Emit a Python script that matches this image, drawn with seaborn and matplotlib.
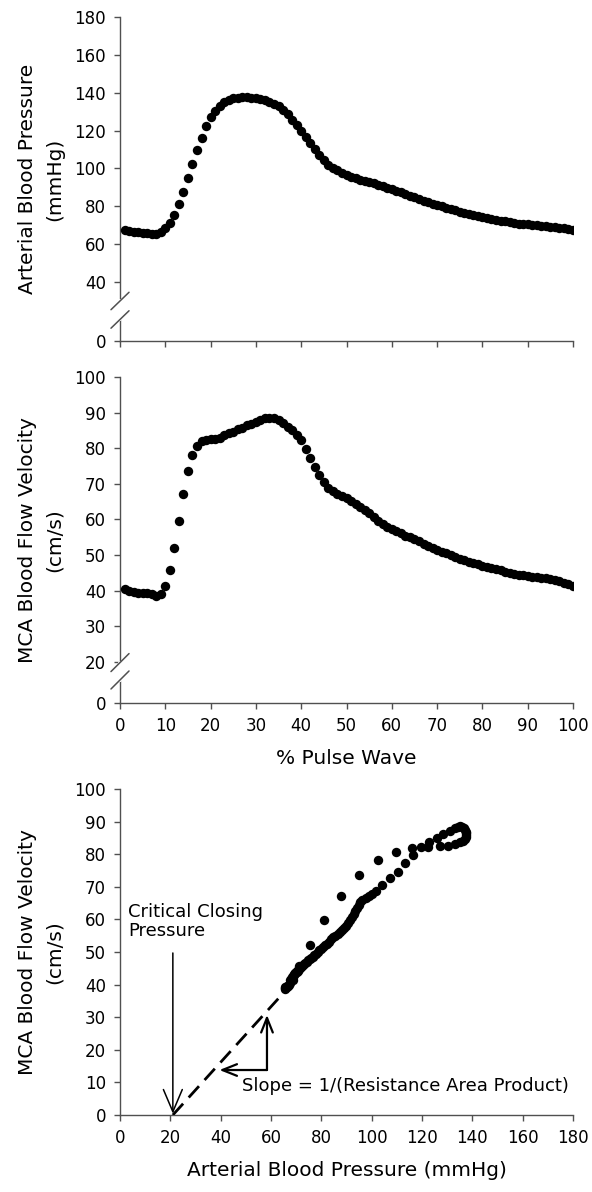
import numpy as np
import matplotlib
matplotlib.use("Agg")
import matplotlib.pyplot as plt
import seaborn as sns

# Ensemble-averaged cardiac cycle, sampled at each 1 % of the pulse wave
pulse_pct = list(range(1, 101))

abp_mmhg = [
    67.4, 67.0, 66.6, 66.3, 66.0, 65.7, 65.5, 65.6, 66.5, 68.6,
    71.2, 75.3, 81.0, 87.7, 94.9, 102.5, 109.5, 116.2, 122.3, 127.0,
    130.5, 133.0, 135.0, 136.3, 137.0, 137.4, 137.6, 137.6, 137.4, 137.1,
    136.6, 136.0, 135.2, 134.2, 133.0, 131.0, 128.5, 125.8, 122.8, 119.7,
    116.5, 113.3, 110.3, 107.2, 104.2, 101.8, 100.3, 99.0, 97.6, 96.3,
    95.5, 94.8, 94.1, 93.5, 92.8, 92.1, 91.3, 90.5, 89.7, 88.9,
    88.1, 87.3, 86.5, 85.6, 84.7, 83.8, 82.9, 82.1, 81.3, 80.6,
    79.9, 79.2, 78.6, 77.9, 77.2, 76.5, 75.9, 75.3, 74.7, 74.2,
    73.7, 73.2, 72.7, 72.3, 72.0, 71.6, 71.2, 70.9, 70.6, 70.4,
    70.2, 69.9, 69.7, 69.5, 69.2, 69.0, 68.7, 68.4, 68.1, 67.7,
]

mca_cms = [
    40.5, 39.9, 39.6, 39.5, 39.4, 39.3, 39.0, 38.6, 39.2, 41.4,
    45.7, 52.0, 59.7, 67.2, 73.7, 78.1, 80.7, 81.9, 82.3, 82.5,
    82.6, 83.0, 83.6, 84.2, 84.7, 85.3, 85.8, 86.4, 86.9, 87.4,
    87.9, 88.4, 88.6, 88.4, 88.0, 87.2, 86.1, 85.0, 83.8, 82.2,
    79.9, 77.3, 74.6, 72.6, 70.4, 68.8, 67.9, 67.2, 66.6, 66.0,
    65.2, 64.4, 63.6, 62.7, 61.7, 60.7, 59.7, 58.8, 57.9, 57.3,
    56.7, 56.1, 55.5, 55.0, 54.5, 53.9, 53.2, 52.6, 52.0, 51.5,
    51.0, 50.5, 50.0, 49.5, 49.0, 48.6, 48.2, 47.8, 47.4, 47.0,
    46.7, 46.4, 46.0, 45.7, 45.4, 45.1, 44.8, 44.5, 44.3, 44.1,
    43.9, 43.8, 43.7, 43.6, 43.4, 43.0, 42.6, 42.2, 41.8, 41.4,
]

# Extrapolated pressure-velocity relationship
critical_closing_pressure = 21.0
slope = 0.852
fit_abp = [critical_closing_pressure, 65.0]

abp_ticks = [0, 40, 60, 80, 100, 120, 140, 160, 180]
mca_ticks_wave = [0, 20, 30, 40, 50, 60, 70, 80, 90, 100]
pct_ticks = list(range(0, 101, 10))
mca_ticks = list(range(0, 101, 10))
abp_ticks_x = list(range(0, 181, 20))

sns.set_theme(style="ticks")
plt.rcParams["font.family"] = ["DejaVu Sans"]
plt.rcParams["text.color"] = "black"
plt.rcParams["axes.labelcolor"] = "black"

AX_COL = "#505050"
TICK_FS = 12
LABEL_FS = 14.5
NOTE_FS = 13
DOT = 46


def broken_scale(cut, squeeze):
    """Linear above `cut`, compressed below it (axis break)."""
    def fwd(y):
        y = np.asarray(y, dtype=float)
        return np.where(y >= cut, y, cut - (cut - y) * squeeze)

    def inv(t):
        t = np.asarray(t, dtype=float)
        return np.where(t >= cut, t, cut - (cut - t) / squeeze)

    return fwd, inv


def style(ax):
    sns.despine(ax=ax)
    for side in ("left", "bottom"):
        ax.spines[side].set_color(AX_COL)
        ax.spines[side].set_linewidth(1.0)
    ax.tick_params(direction="out", length=4, width=1.0, color=AX_COL,
                   labelsize=TICK_FS, labelcolor="black", pad=6,
                   left=True, bottom=True)


def break_marks(ax, y_hi, y_lo, dx, dy):
    tr = ax.transAxes
    ax.plot([0, 0], [y_lo, y_hi], transform=tr, color="white", lw=3,
            clip_on=False, zorder=3)
    for yc in (y_hi, y_lo):
        ax.plot([-dx, dx], [yc - dy, yc + dy], transform=tr, color=AX_COL,
                lw=1.1, clip_on=False, zorder=4)


W, H = 592, 1192
fig = plt.figure(figsize=(W / 100, H / 100), dpi=100)
ax1 = fig.add_axes([120 / W, 1 - 341 / H, 453 / W, 324 / H])
ax2 = fig.add_axes([120 / W, 1 - 703 / H, 453 / W, 326 / H])
ax3 = fig.add_axes([120 / W, 1 - 1115 / H, 453 / W, 326 / H])

# --- Arterial blood pressure waveform ---
sns.scatterplot(x=pulse_pct, y=abp_mmhg, ax=ax1, color="black", s=DOT,
                linewidth=0, zorder=5)
ax1.set_yscale("function", functions=broken_scale(40, 0.779))
ax1.set_ylim(0, 180)
ax1.set_yticks(abp_ticks)
ax1.set_yticklabels([str(t) for t in abp_ticks])
ax1.set_xlim(0, 100)
ax1.set_xticks(pct_ticks)
ax1.set_xticklabels([])
ax1.set_xlabel("")
ax1.set_ylabel("Arterial Blood Pressure\n(mmHg)", fontsize=LABEL_FS,
               linespacing=1.5)
style(ax1)
break_marks(ax1, 0.1235, 0.0664, 0.0199, 0.0269)

# --- MCA velocity waveform ---
sns.scatterplot(x=pulse_pct, y=mca_cms, ax=ax2, color="black", s=DOT,
                linewidth=0, zorder=5)
ax2.set_yscale("function", functions=broken_scale(20, 0.5755))
ax2.set_ylim(0, 100)
ax2.set_yticks(mca_ticks_wave)
ax2.set_yticklabels([str(t) for t in mca_ticks_wave])
ax2.set_xlim(0, 100)
ax2.set_xticks(pct_ticks)
ax2.set_xlabel("% Pulse Wave", fontsize=LABEL_FS, labelpad=10)
ax2.set_ylabel("MCA Blood Flow Velocity\n(cm/s)", fontsize=LABEL_FS,
               linespacing=1.5)
style(ax2)
break_marks(ax2, 0.124, 0.0706, 0.0199, 0.0276)

# --- Pressure-velocity relationship ---
sns.scatterplot(x=abp_mmhg, y=mca_cms, ax=ax3, color="black", s=DOT,
                linewidth=0, zorder=5)
fit_x = np.array(fit_abp)
fit_y = slope * (fit_x - critical_closing_pressure)
ax3.plot(fit_x, fit_y, color="black", lw=2.0, linestyle=(0, (5.5, 3)),
         zorder=4)
ax3.set_xlim(0, 180)
ax3.set_ylim(0, 100)
ax3.set_xticks(abp_ticks_x)
ax3.set_yticks(mca_ticks)
ax3.set_xlabel("Arterial Blood Pressure (mmHg)", fontsize=LABEL_FS,
               labelpad=10)
ax3.set_ylabel("MCA Blood Flow Velocity\n(cm/s)", fontsize=LABEL_FS,
               linespacing=1.5)
style(ax3)

ax3.text(3.2, 59.3, "Critical Closing\nPressure", fontsize=NOTE_FS,
         ha="left", va="center", linespacing=1.1, color="black")
ax3.annotate("", xy=(critical_closing_pressure, 0.4),
             xytext=(critical_closing_pressure, 49.7),
             arrowprops=dict(arrowstyle="->,head_length=0.8,head_width=0.34",
                             lw=1.1, color="black", shrinkA=0, shrinkB=0,
                             mutation_scale=20))
corner = (58.4, 13.8)
ax3.annotate("", xy=(58.4, 30.7), xytext=corner,
             arrowprops=dict(arrowstyle="->,head_length=0.75,head_width=0.3",
                             lw=1.6, color="black", shrinkA=0, shrinkB=0,
                             mutation_scale=14))
ax3.annotate("", xy=(39.5, 13.8), xytext=corner,
             arrowprops=dict(arrowstyle="->,head_length=0.75,head_width=0.3",
                             lw=1.6, color="black", shrinkA=0, shrinkB=0,
                             mutation_scale=14))
ax3.text(48.5, 8.8, "Slope = 1/(Resistance Area Product)", fontsize=NOTE_FS,
         ha="left", va="center", color="black")

for ax in (ax1, ax2, ax3):
    ax.yaxis.set_label_coords(-0.124, 0.5)

fig.savefig("out.png", dpi=100)
